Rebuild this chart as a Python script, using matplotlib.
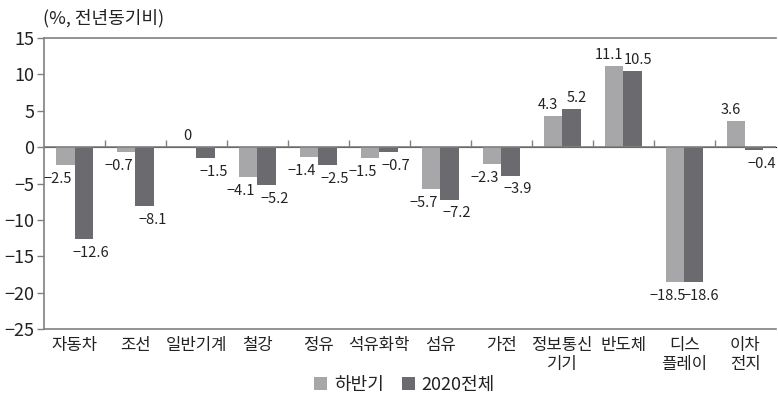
import matplotlib
matplotlib.use("Agg")
import matplotlib.pyplot as plt
import numpy as np

plt.rcParams['font.family'] = ['Noto Sans CJK KR', 'DejaVu Sans']
plt.rcParams['axes.unicode_minus'] = True

categories = ["자동차", "조선", "일반기계", "철강", "정유", "석유화학", "섬유", "가전",
              "정보통신\n기기", "반도체", "디스\n플레이", "이차\n전지"]
second_half = [-2.5, -0.7, 0, -4.1, -1.4, -1.5, -5.7, -2.3, 4.3, 11.1, -18.5, 3.6]
full_2020 = [-12.6, -8.1, -1.5, -5.2, -2.5, -0.7, -7.2, -3.9, 5.2, 10.5, -18.6, -0.4]
series_names = ["하반기", "2020전체"]
y_ticks = [15, 10, 5, 0, -5, -10, -15, -20, -25]

light = "#a7a7a9"
dark = "#6b6b6f"
axis_col = "#808080"
text_col = "#222222"

fig = plt.figure(figsize=(7.78, 4.01), dpi=100)
ax = fig.add_axes([0.0566, 0.1796, 0.9404, 0.7254])

x = np.arange(len(categories))
w = 0.3
b1 = ax.bar(x - w / 2, second_half, w, color=light, label=series_names[0], zorder=2)
b2 = ax.bar(x + w / 2, full_2020, w, color=dark, label=series_names[1], zorder=2)

ymin, ymax = -25, 15
ax.set_xlim(-0.5, len(categories) - 0.5)
ax.set_ylim(ymin, ymax)

def fmt(v):
    return "0" if v == 0 else f"{v:g}".replace("-", "\u2212")

# value labels: the paired labels are nudged apart so neighbours do not collide
for vals, xs, side in ((second_half, x - w / 2, -1), (full_2020, x + w / 2, 1)):
    for xi, v in zip(xs, vals):
        if v > 0:
            ax.annotate(fmt(v), (xi, v), xytext=(side * 4, 3), textcoords="offset points",
                        ha="center", va="bottom", fontsize=10.5, color=text_col)
        elif v == 0:
            ax.annotate(fmt(v), (xi, v), xytext=(0, 3), textcoords="offset points",
                        ha="center", va="bottom", fontsize=10.5, color=text_col)
        else:
            ax.annotate(fmt(v), (xi, v), xytext=(side * 5.5, -5), textcoords="offset points",
                        ha="center", va="top", fontsize=10.5, color=text_col)

# zero line with category separators
ax.axhline(0, color=axis_col, lw=1.2, zorder=3)
zero_pos = (0 - ymin) / (ymax - ymin)
sec = ax.secondary_xaxis(zero_pos)
sec.set_xticks(np.arange(len(categories) - 1) + 0.5)
sec.set_xticklabels([])
sec.tick_params(direction="out", length=5, width=1, color=axis_col)
sec.spines["bottom"].set_visible(False)

ax.set_xticks(x)
ax.set_xticklabels(categories, fontsize=12, color=text_col, linespacing=1.1)
ax.tick_params(axis="x", length=0, pad=6)

ax.set_yticks(y_ticks)
ax.set_yticklabels([fmt(t) for t in y_ticks], fontsize=13, color=text_col)
ax.tick_params(axis="y", direction="out", length=5, width=1, color=axis_col, pad=2)

for s in ("top", "bottom", "left"):
    ax.spines[s].set_color(axis_col)
    ax.spines[s].set_linewidth(1.2)
ax.spines["right"].set_visible(False)

fig.text(0.055, 0.955, "(%, 전년동기비)", fontsize=13, color=text_col, ha="left", va="center")

leg = fig.legend(handles=[b1, b2], labels=series_names, loc="center", bbox_to_anchor=(0.52, 0.04),
                 ncol=2, frameon=False, fontsize=13, handlelength=0.7, handleheight=0.7,
                 handletextpad=0.4, columnspacing=1.0, labelcolor=text_col)

fig.savefig("out.png", dpi=100)
